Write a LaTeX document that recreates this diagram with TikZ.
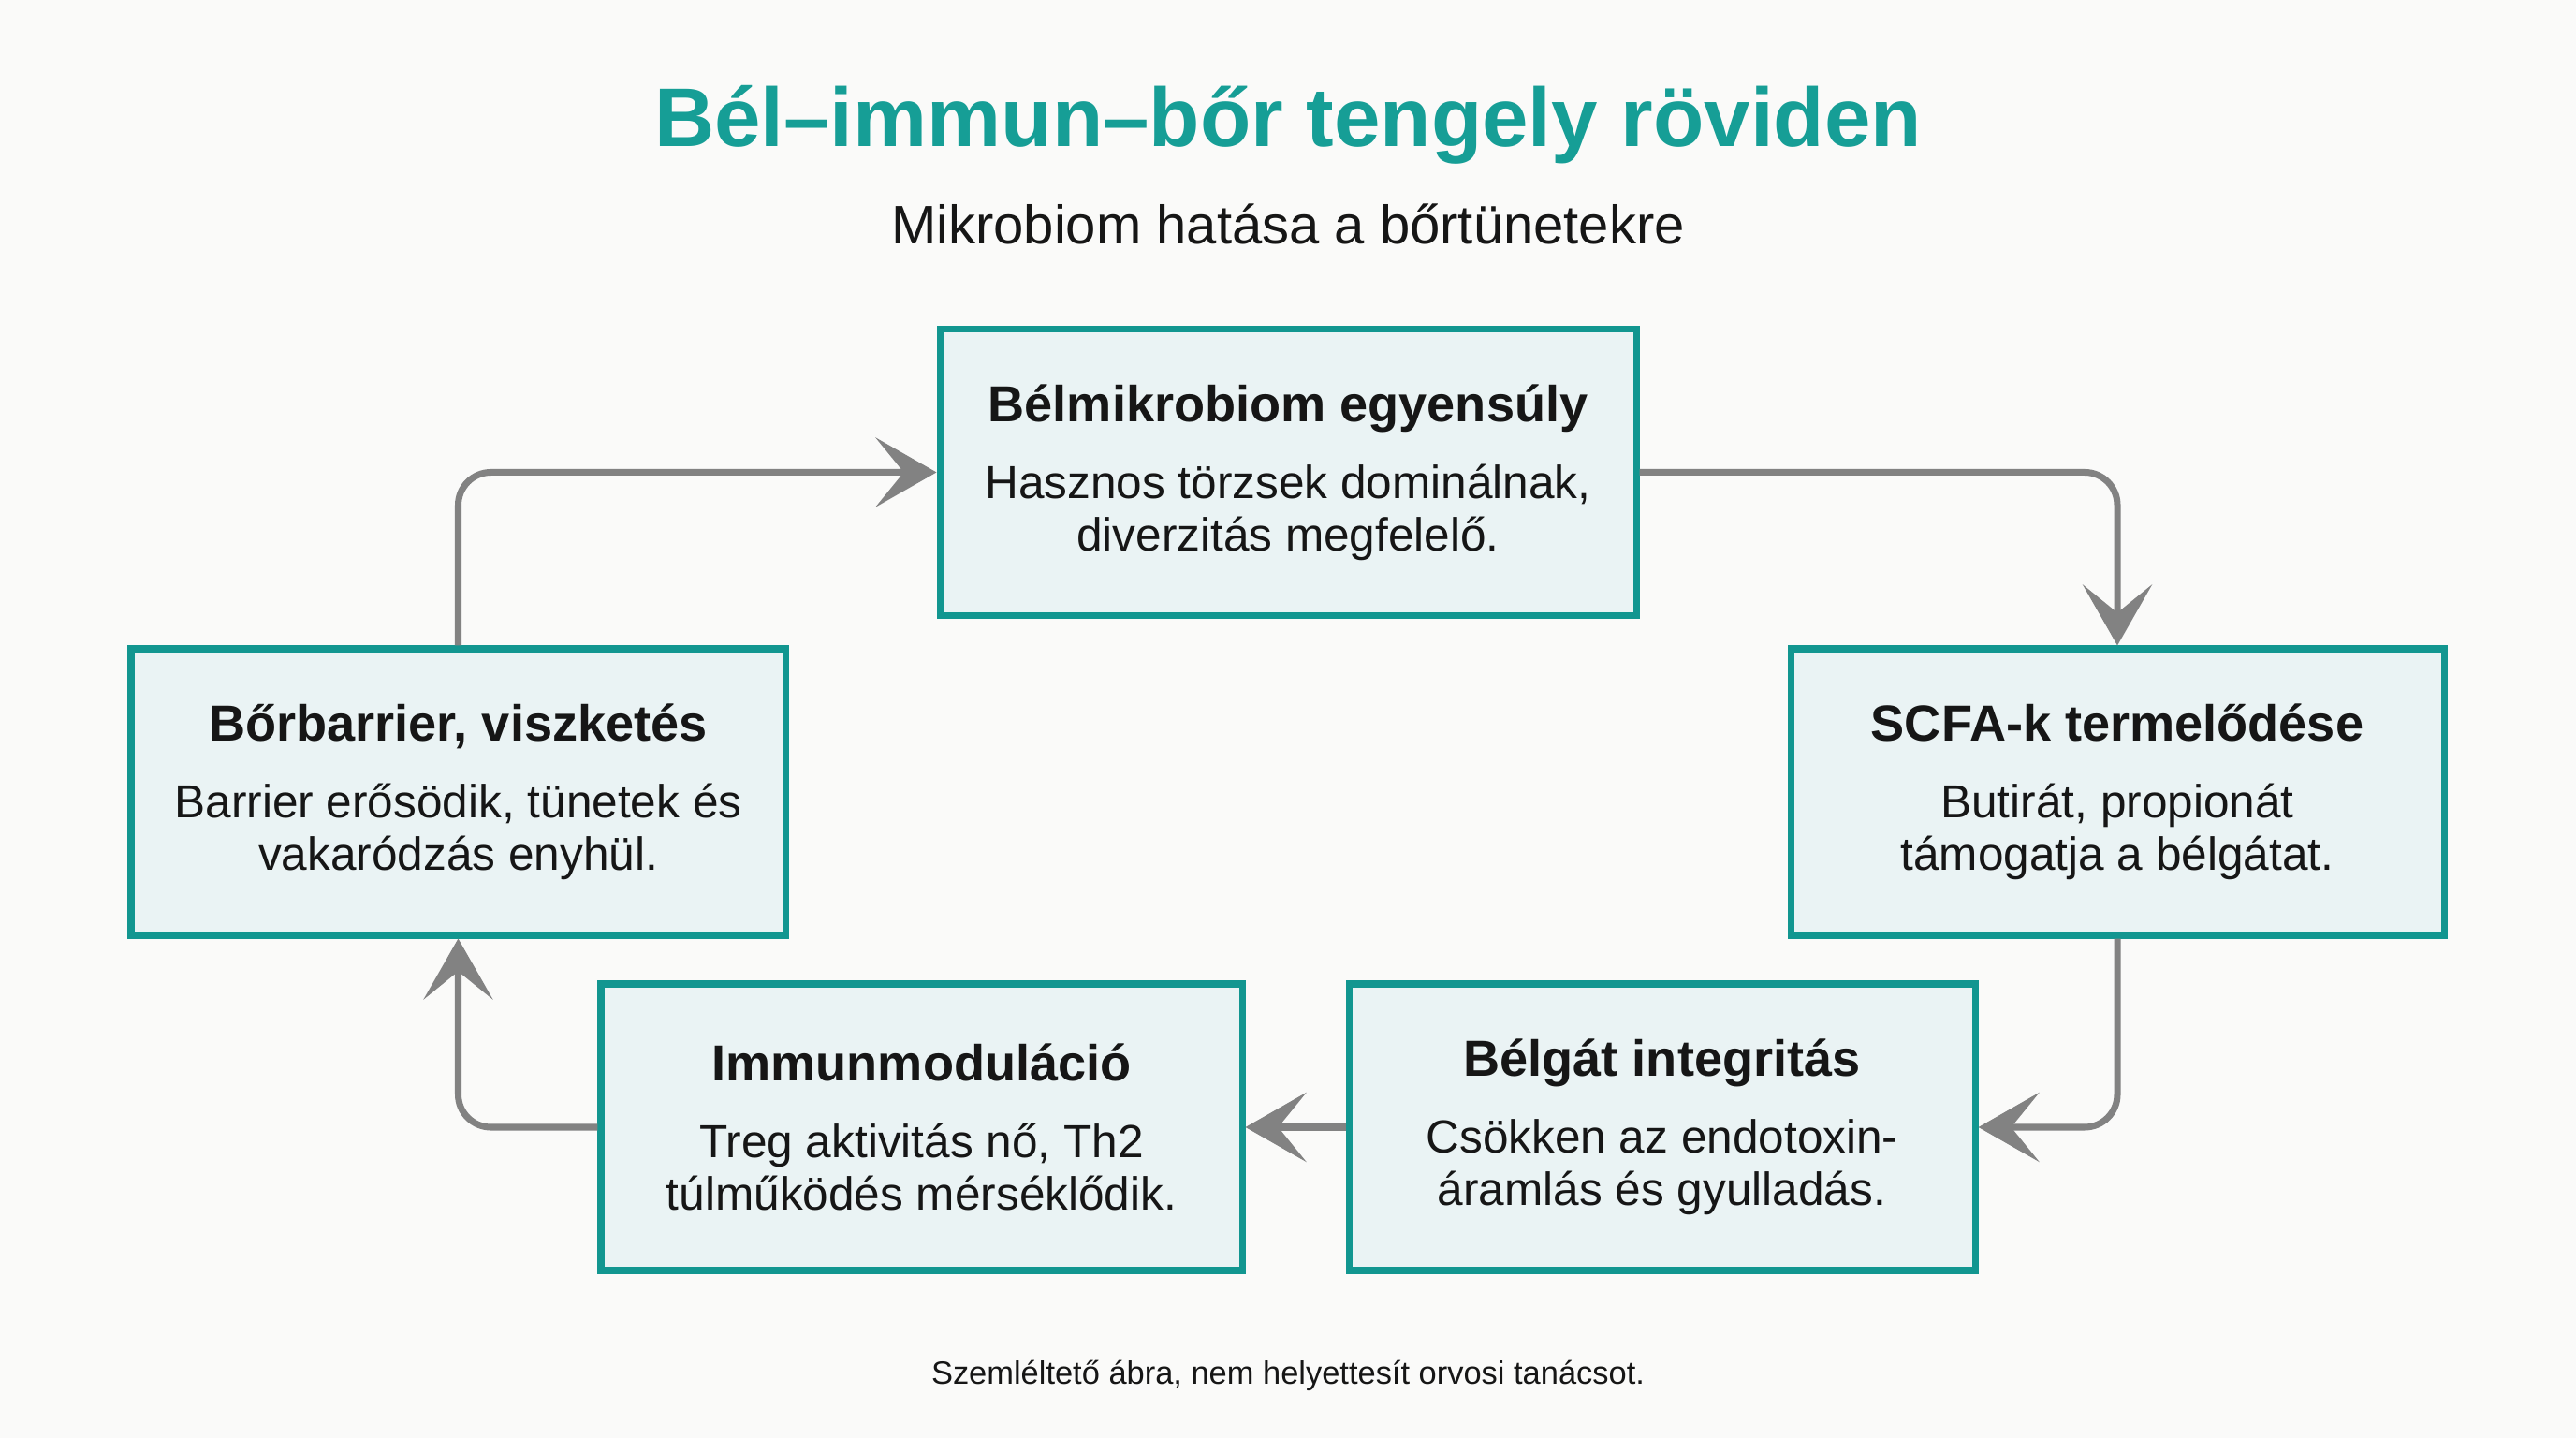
\documentclass[tikz,border=0pt]{standalone}
\usepackage{fontspec}
\setmainfont{Liberation Sans}
\usepackage{xcolor}
\usepackage{tikz}
\usetikzlibrary{calc,arrows.meta,positioning}
\definecolor{axisTeal}{RGB}{22,158,150}
\definecolor{axisTealDark}{RGB}{18,150,144}
\definecolor{axisFill}{RGB}{234,243,244}
\definecolor{axisGray}{RGB}{130,130,130}
\definecolor{axisInk}{RGB}{22,22,22}
\definecolor{axisPaper}{RGB}{250,250,249}

\begin{document}
\begin{tikzpicture}[
  stagebox/.style={draw=axisTealDark, fill=axisFill, line width=2pt, minimum height=3.06cm,
    align=center, text=axisInk, font=\fontsize{14.1}{15.9}\selectfont},
  flowarrow/.style={axisGray, line width=2pt, rounded corners=0.35cm,
    -{Stealth[length=6.5mm,width=7.4mm,inset=3mm]}}
]
\fill[axisPaper] (0,0) rectangle (27.52,15.36);
\useasboundingbox (0,0) rectangle (27.52,15.36);

\node (title) at (13.76,14.03) {\fontsize{25.3}{30}\selectfont\bfseries\color{axisTeal}Bél–immun–bőr tengely röviden};
\node (subtitle) at (13.76,12.97) {\fontsize{16.5}{20}\selectfont\color{axisInk}Mikrobiom hatása a bőrtünetekre};

\node[stagebox, minimum width=7.44cm] (mikrobiom) at (13.76,10.315)
  {{\fontsize{15.4}{18}\selectfont\bfseries Bélmikrobiom egyensúly}\\[7.5pt]Hasznos törzsek dominálnak,\\diverzitás megfelelő.};
\node[stagebox, minimum width=6.98cm] (scfa) at (22.62,6.90)
  {{\fontsize{15.4}{18}\selectfont\bfseries SCFA-k termelődése}\\[7.5pt]Butirát, propionát\\támogatja a bélgátat.};
\node[stagebox, minimum width=6.69cm] (belgat) at (17.755,3.32)
  {{\fontsize{15.4}{18}\selectfont\bfseries Bélgát integritás}\\[7.5pt]Csökken az endotoxin-\\áramlás és gyulladás.};
\node[stagebox, minimum width=6.85cm] (immun) at (9.845,3.32)
  {{\fontsize{15.4}{18}\selectfont\bfseries Immunmoduláció}\\[7.5pt]Treg aktivitás nő, Th2\\túlműködés mérséklődik.};
\node[stagebox, minimum width=6.99cm] (barrier) at (4.895,6.90)
  {{\fontsize{15.4}{18}\selectfont\bfseries Bőrbarrier, viszketés}\\[7.5pt]Barrier erősödik, tünetek és\\vakaródzás enyhül.};

% the loop
\draw[flowarrow] (mikrobiom.east) -| (scfa.north);
\draw[flowarrow] (scfa.south) |- (belgat.east);
\draw[flowarrow] (belgat.west) -- (immun.east);
\draw[flowarrow] (immun.west) -| (barrier.south);
\draw[flowarrow] (barrier.north) |- (mikrobiom.west);

\node (footer) at (13.76,0.67) {\fontsize{9.8}{12}\selectfont\color{axisInk}Szemléltető ábra, nem helyettesít orvosi tanácsot.};
\end{tikzpicture}
\end{document}
